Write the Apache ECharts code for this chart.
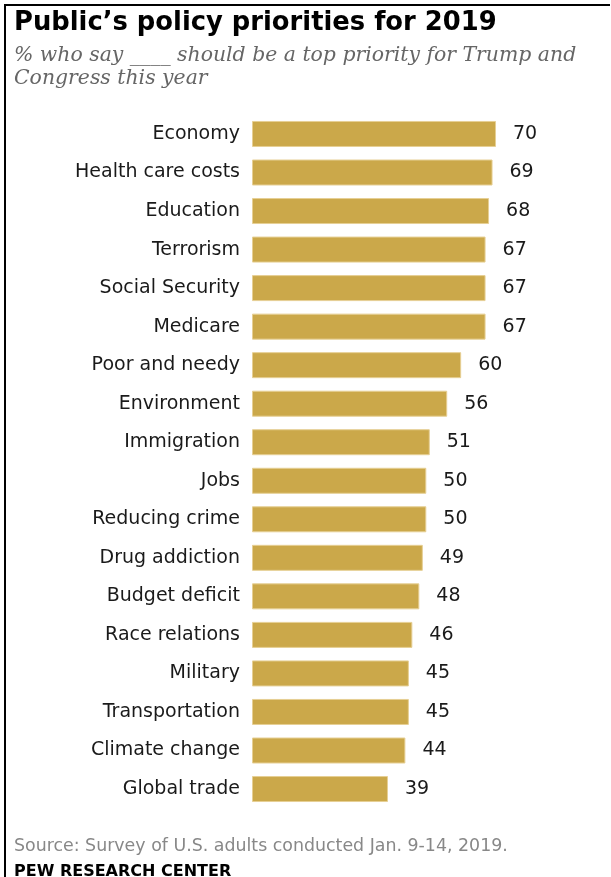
<!DOCTYPE html>
<html>
<head>
<meta charset="utf-8">
<script src="https://cdn.jsdelivr.net/npm/echarts@6/dist/echarts.min.js"></script>
<style>
  html, body { margin: 0; padding: 0; background: #fff; }
  #chart { width: 611px; height: 877px; }
</style>
</head>
<body>
<div id="chart"></div>
<script>
// Policy priorities, top to bottom
const categories = [
  'Economy', 'Health care costs', 'Education', 'Terrorism', 'Social Security',
  'Medicare', 'Poor and needy', 'Environment', 'Immigration', 'Jobs',
  'Reducing crime', 'Drug addiction', 'Budget deficit', 'Race relations',
  'Military', 'Transportation', 'Climate change', 'Global trade'
];
// % who say each should be a top priority
const values = [70, 69, 68, 67, 67, 67, 60, 56, 51, 50, 50, 49, 48, 46, 45, 45, 44, 39];

const titleText = 'Public\u2019s policy priorities for 2019';
const subtitleLines = [
  '% who say ____ should be a top priority for Trump and',
  'Congress this year'
];
const sourceText = 'Source: Survey of U.S. adults conducted Jan. 9-14, 2019.';
const brandText = 'PEW RESEARCH CENTER';

const chart = echarts.init(document.getElementById('chart'), null, { renderer: 'canvas' });

const labelFont = 'DejaVu Sans';
const barColor = '#CBA84A';

chart.setOption({
  backgroundColor: '#ffffff',
  animation: false,
  grid: { left: 252, right: 10.4, top: 114.7, bottom: 68.7, containLabel: false },
  xAxis: {
    type: 'value', min: 0, max: 100,
    show: false
  },
  yAxis: {
    type: 'category',
    data: categories,
    inverse: true,
    axisLine: { show: false },
    axisTick: { show: false },
    splitLine: { show: false },
    axisLabel: {
      margin: 12,
      color: '#1a1a1a',
      fontFamily: labelFont,
      fontSize: 19
    }
  },
  series: [{
    type: 'bar',
    data: values,
    barWidth: 26,
    itemStyle: { color: barColor, borderColor: '#E6CF94', borderWidth: 1 },
    label: {
      show: true,
      position: 'right',
      distance: 17,
      color: '#1a1a1a',
      fontFamily: labelFont,
      fontSize: 19
    }
  }],
  graphic: [
    // frame: top and left rules
    { type: 'line', shape: { x1: 5, y1: 5, x2: 610, y2: 5 }, style: { stroke: '#000', lineWidth: 2 } },
    { type: 'line', shape: { x1: 5, y1: 4, x2: 5, y2: 877 }, style: { stroke: '#000', lineWidth: 2 } },
    { type: 'text', left: 14, top: 10, style: { text: titleText, font: 'bold 25.8px "DejaVu Sans"', fill: '#000' } },
    { type: 'text', left: 14, top: 46, style: { text: subtitleLines[0], font: 'italic 20.4px "DejaVu Serif"', fill: '#666' } },
    { type: 'text', left: 14, top: 69, style: { text: subtitleLines[1], font: 'italic 20.4px "DejaVu Serif"', fill: '#666' } },
    { type: 'text', left: 14, top: 838, style: { text: sourceText, font: '17.4px "DejaVu Sans"', fill: '#888' } },
    { type: 'text', left: 14, top: 864, style: { text: brandText, font: 'bold 16px "DejaVu Sans"', fill: '#000' } }
  ]
});
</script>
</body>
</html>
